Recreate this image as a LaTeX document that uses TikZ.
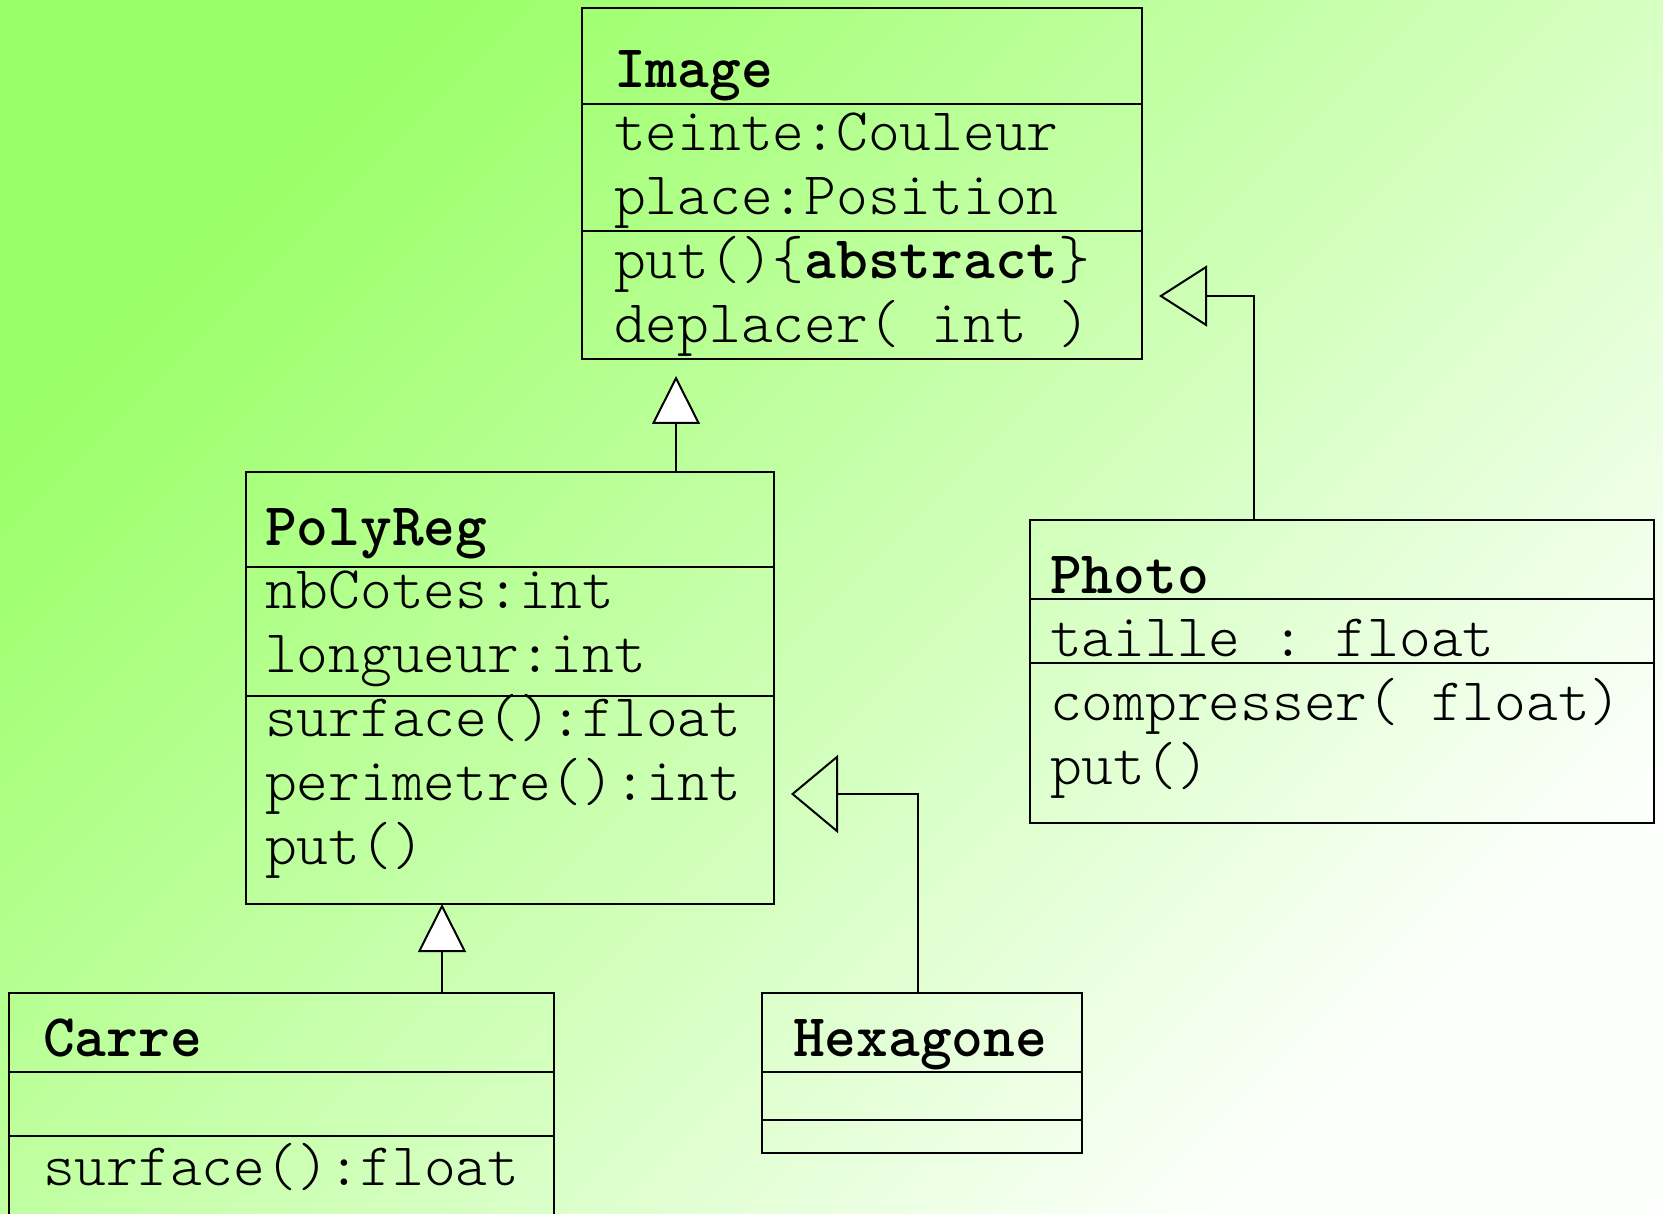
\documentclass[tikz,border=0pt]{standalone}
\usepackage{fontspec}
\setmonofont{lmmonolt10-regular.otf}[BoldFont=lmmonolt10-bold.otf]
\usetikzlibrary{
    arrows.meta,
    positioning,
    calc
}

\definecolor{bggreen}{RGB}{153,255,102}
\definecolor{bgwhite}{RGB}{253,255,253}
\newcommand{\umlfont}{\fontsize{60.5}{64}\selectfont\ttfamily}

\begin{document}
\begin{tikzpicture}[
    x=1pt, y=-1pt,
    line width=2pt,
    classbox/.style={rectangle, draw=black, anchor=north west, inner sep=0pt, outer sep=0pt},
    cname/.style={anchor=base west, inner sep=0pt, font=\umlfont\bfseries},
    member/.style={anchor=base west, inner sep=0pt, font=\umlfont},
    inherit/.style={-{Triangle[length=48pt, width=48pt, fill=white]}},
    realize/.style={-{Triangle[open, length=48pt, width=61pt]}},
    realizewide/.style={-{Triangle[open, length=47pt, width=78pt]}}
]

    % Background
    \useasboundingbox (0,0) rectangle (1663,1214);
    \clip (0,0) rectangle (1663,1214);
    \shade[top color=bggreen, bottom color=bgwhite, shading angle=45] (0,0) rectangle (1663,1214);

    % Classes
    \node (image) [classbox, minimum width=560, minimum height=351] at (582,8) {};
    \node (polyreg) [classbox, minimum width=528, minimum height=432] at (246,472) {};
    \node (photo) [classbox, minimum width=624, minimum height=303] at (1030,520) {};
    \node (carre) [classbox, minimum width=545, minimum height=260] at (9,993) {};
    \node (hexagone) [classbox, minimum width=320, minimum height=160] at (762,993) {};

    % Compartment lines
    \foreach \cls/\dy in {image/96, image/223, polyreg/95, polyreg/224, photo/79, photo/143,
                          carre/79, carre/143, hexagone/79, hexagone/127}
        \draw ($(\cls.north west)+(0,\dy)$) -- ($(\cls.north east)+(0,\dy)$);

    % Image
    \node (image-name) [cname] at (613,88) {Image};
    \node (image-att1) [member] at (613,151) {teinte:Couleur};
    \node (image-att2) [member] at (613,215) {place:Position};
    \node (image-op1) [member] at (613,279) {put()\{\textbf{abstract}\}};
    \node (image-op2) [member] at (613,343) {deplacer( int )};

    % PolyReg
    \node (polyreg-name) [cname] at (264,545) {PolyReg};
    \node (polyreg-att1) [member] at (264,608) {nbCotes:int};
    \node (polyreg-att2) [member] at (264,672) {longueur:int};
    \node (polyreg-op1) [member] at (264,736) {surface():float};
    \node (polyreg-op2) [member] at (264,800) {perimetre():int};
    \node (polyreg-op3) [member] at (264,864) {put()};

    % Photo
    \node (photo-name) [cname] at (1049,593) {Photo};
    \node (photo-att1) [member] at (1049,656) {taille : float};
    \node (photo-op1) [member] at (1049,720) {compresser( float)};
    \node (photo-op2) [member] at (1049,784) {put()};

    % Carre, Hexagone
    \node (carre-name) [cname] at (42,1056) {Carre};
    \node (carre-op1) [member] at (42,1185) {surface():float};
    \node (hexagone-name) [cname] at (792,1056) {Hexagone};

    % Inheritance
    \coordinate (polyreg-tip) at (676,376);
    \coordinate (carre-tip) at (442,904);
    \coordinate (photo-bend) at (1254,296);
    \coordinate (photo-tip) at (1159,296);
    \coordinate (hexagone-bend) at (918,794);
    \coordinate (hexagone-tip) at (791,794);

    \draw [inherit] (polyreg.north -| polyreg-tip) -- (polyreg-tip);
    \draw [inherit] (carre.north -| carre-tip) -- (carre-tip);
    \draw [realize] (photo.north -| photo-bend) -- (photo-bend) -- (photo-tip);
    \draw [realizewide] (hexagone.north -| hexagone-bend) -- (hexagone-bend) -- (hexagone-tip);

\end{tikzpicture}
\end{document}
